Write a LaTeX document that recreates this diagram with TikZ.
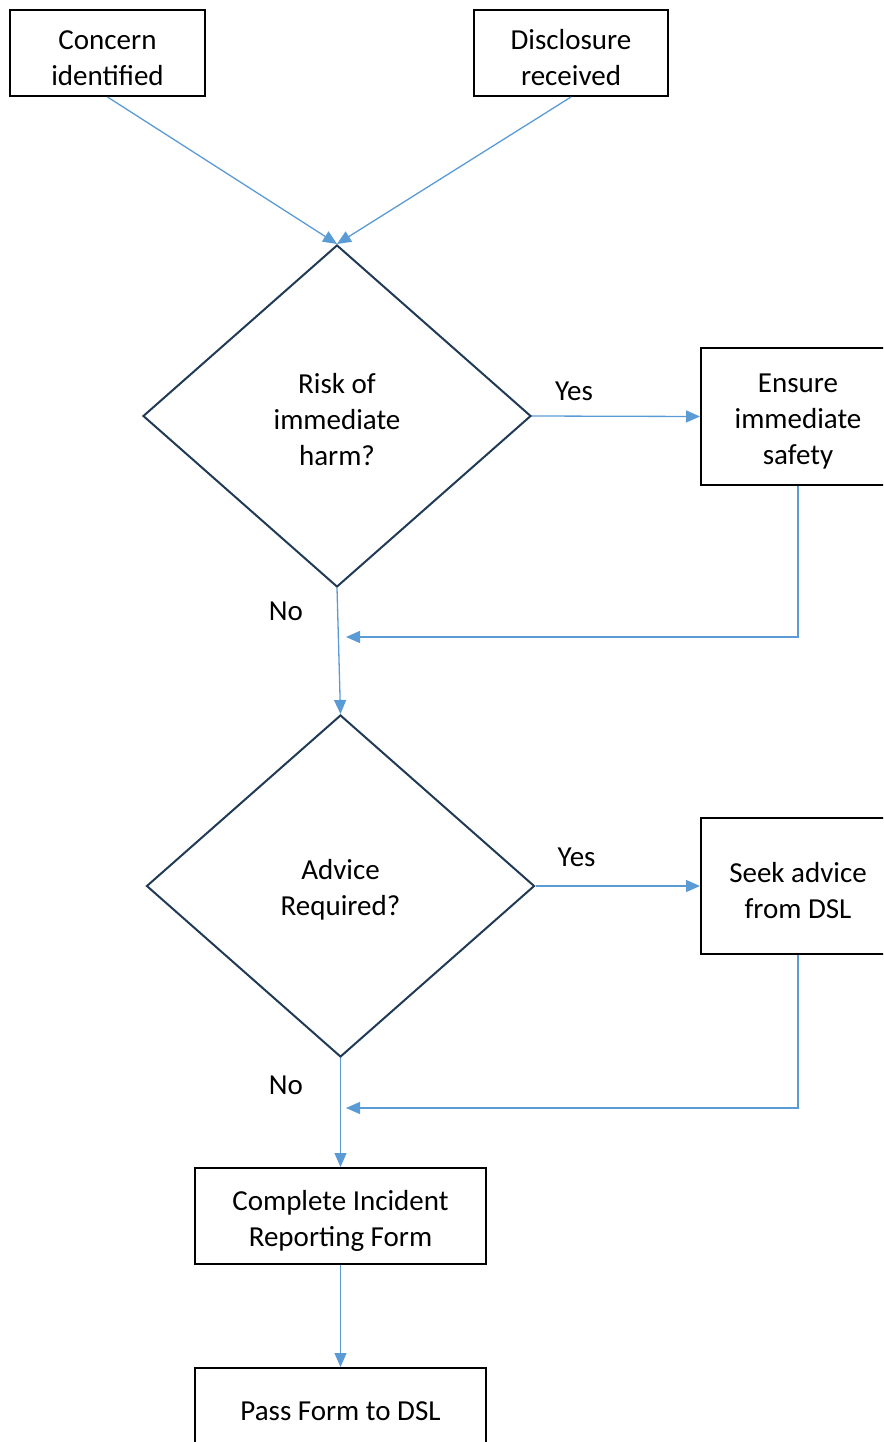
\documentclass[tikz,border=0pt]{standalone}
\usepackage{fontspec}
\setmainfont{Carlito}
\usetikzlibrary{shapes.geometric}
\usetikzlibrary{arrows.meta}
\usetikzlibrary{calc}

\definecolor{linkblue}{HTML}{5B9BD5}
\definecolor{edgenavy}{HTML}{203A55}

\tikzset{
 box/.style={draw=black, line width=2pt, align=flush center, text width=170pt, inner sep=0pt, execute at begin node={\rule{0pt}{29pt}}},
 decision/.style={diamond, draw=edgenavy, line width=2pt, align=flush center, text width=200pt, inner sep=0pt, minimum width=388pt, minimum height=342pt, execute at begin node={\rule{0pt}{27pt}}},
 flow/.style={linkblue, line width=1.3pt, -{Triangle[length=14pt,width=12pt]}}
}

\begin{document}
\begin{tikzpicture}[x=1pt, y=-1pt, font=\fontsize{29}{36}\selectfont]
\useasboundingbox (0,0) rectangle (883,1442);
\clip (0,0) rectangle (883,1442);

% start boxes
\node[box, minimum width=195pt, minimum height=86pt] (concern) at (107.5,53) {Concern\\identified};
\node[box, minimum width=194pt, minimum height=86pt] (disclosure) at (571,53) {Disclosure\\received};

% decisions
\node[decision] (risk) at (337,416) {Risk of\\immediate\\harm?};
\node[decision] (advice) at (340.5,886) {Advice\\Required?};

% side actions
\node[box, minimum width=194pt, minimum height=137pt] (ensure) at (798,416.5) {Ensure\\immediate\\safety};
\node[box, minimum width=194pt, minimum height=136pt] (seek) at (798,886) {Seek advice\\from DSL};

% form boxes
\node[box, text width=270pt, minimum width=291pt, minimum height=96pt] (complete) at (340.5,1216) {Complete Incident\\Reporting Form};
\node[box, text width=270pt, minimum width=291pt, minimum height=76pt] (pass) at (340.5,1406) {Pass Form to DSL};

\coordinate (join1) at (346,637);
\coordinate (join2) at (346,1108);

\draw[flow] (concern.south) -- (risk.north);
\draw[flow] (disclosure.south) -- (risk.north);
\foreach \d/\b/\j/\up in {risk/ensure/join1/25, advice/seek/join2/29} {
 \draw[flow] (\d.east) -- (\b.west) node[pos=.25, yshift=\up pt, black]{Yes};
 \draw[flow] (\b.south) |- (\j);
}
\draw[flow] (risk.south) -- (advice.north);
\draw[flow] (advice.south) -- (complete.north);
\draw[flow] (complete.south) -- (pass.north);

\node (no1) at (286,611) {No};
\node (no2) at (286,1085) {No};
\end{tikzpicture}
\end{document}
